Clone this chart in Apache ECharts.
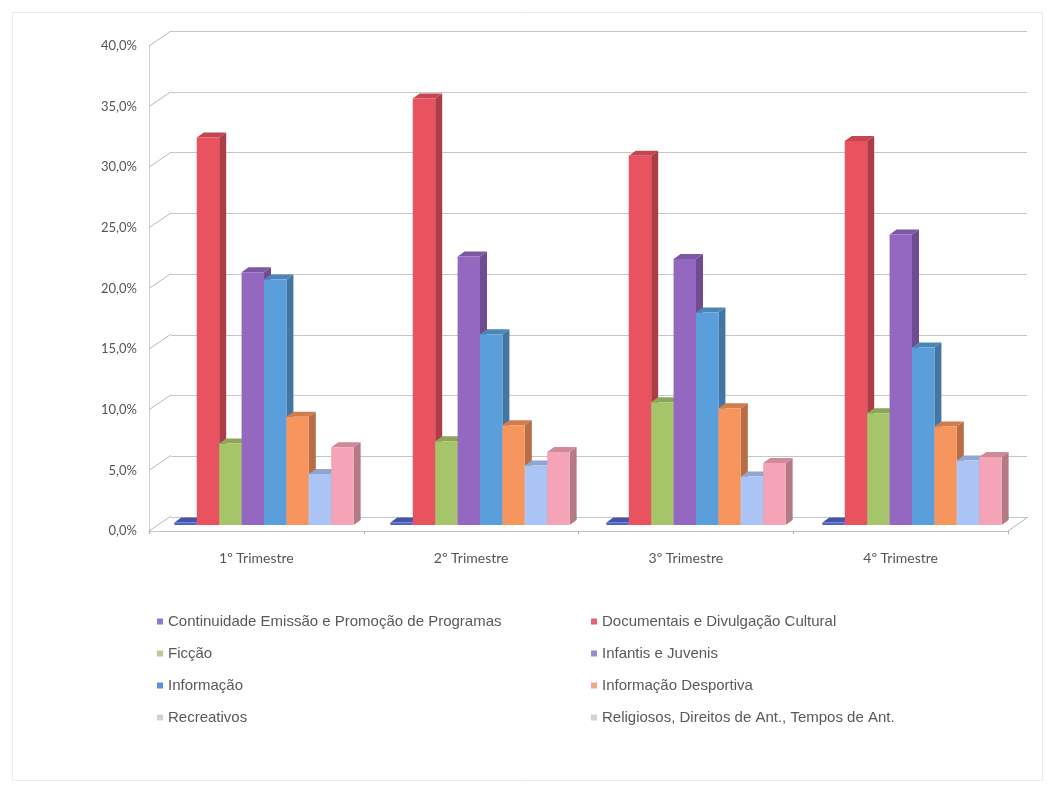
<!DOCTYPE html>
<html><head><meta charset="utf-8">
<script src="https://cdn.jsdelivr.net/npm/echarts@6/dist/echarts.min.js"></script>
<style>html,body{margin:0;padding:0;background:#fff}#c{width:1047px;height:789px}</style>
</head><body><div id="c"></div>
<script>
const categories = ['1º Trimestre', '2º Trimestre', '3º Trimestre', '4º Trimestre'];
const seriesNames = [
  'Continuidade Emissão e Promoção de Programas',
  'Documentais e Divulgação Cultural',
  'Ficção',
  'Infantis e Juvenis',
  'Informação',
  'Informação Desportiva',
  'Recreativos',
  'Religiosos, Direitos de Ant., Tempos de Ant.'
];
const continuidade = [0.002, 0.002, 0.002, 0.002];
const documentais  = [0.319, 0.351, 0.304, 0.316];
const ficcao       = [0.067, 0.069, 0.101, 0.092];
const infantis     = [0.208, 0.221, 0.219, 0.239];
const informacao   = [0.202, 0.157, 0.175, 0.146];
const desportiva   = [0.089, 0.082, 0.096, 0.081];
const recreativos  = [0.042, 0.049, 0.040, 0.053];
const religiosos   = [0.064, 0.060, 0.051, 0.056];
const yTicks = [0, 0.05, 0.10, 0.15, 0.20, 0.25, 0.30, 0.35, 0.40];

const seriesValues = [continuidade, documentais, ficcao, infantis, informacao, desportiva, recreativos, religiosos];
const colors = ['#4f63c8', '#e8535f', '#a6c46a', '#9467c1', '#5a9fdc', '#f7955e', '#abc4f6', '#f4a4b6'];
const legendColors = ['#7f7fe0', '#e5607a', '#bccb9c', '#9a8ccb', '#5b8ee3', '#f5a290', '#cfd1d6', '#d2d2d2'];

function shade(hex, f) {
  const n = parseInt(hex.slice(1), 16);
  const r = Math.round(((n >> 16) & 255) * f), g = Math.round(((n >> 8) & 255) * f), b = Math.round((n & 255) * f);
  return 'rgb(' + r + ',' + g + ',' + b + ')';
}

function makeBar(sIdx) {
  return function (params, api) {
    const ci = api.value(0), v = api.value(1);
    const b = api.coord([ci, 0]), t = api.coord([ci, v]);
    const band = api.size([1, 0])[0];
    const gw = band * 0.83, bw = gw / 8;
    const x0 = b[0] - gw / 2 + sIdx * bw, x1 = x0 + bw;
    const dx = 7, dy = -5;
    const c = colors[sIdx];
    return {
      type: 'group', children: [
        { type: 'polygon', shape: { points: [[x1, t[1]], [x1 + dx, t[1] + dy], [x1 + dx, b[1] + dy], [x1, b[1]]] }, style: { fill: shade(c, 0.74) } },
        { type: 'polygon', shape: { points: [[x0, t[1]], [x0 + dx, t[1] + dy], [x1 + dx, t[1] + dy], [x1, t[1]]] }, style: { fill: shade(c, 0.84) } },
        { type: 'rect', shape: { x: x0, y: t[1], width: bw, height: b[1] - t[1] }, style: { fill: c } }
      ]
    };
  };
}

const fmt = v => (v * 100).toFixed(1).replace('.', ',') + '%';

const chart = echarts.init(document.getElementById('c'), null, { renderer: 'canvas' });
const barSeries = seriesNames.map((name, i) => ({
  name: name,
  type: 'custom',
  xAxisIndex: 2, yAxisIndex: 2,
  itemStyle: { color: colors[i] },
  renderItem: makeBar(i),
  data: categories.map((c, k) => [k, seriesValues[i][k]]),
  z: 5
}));

chart.setOption({
  animation: false,
  backgroundColor: '#ffffff',
  graphic: [{
    type: 'rect', left: 10, top: 10, shape: { width: 1030, height: 768 },
    style: { fill: 'none', stroke: '#ebebeb', lineWidth: 1 }, silent: true, z: -1
  }],
  grid: [
    { left: 149, top: 46, width: 859, height: 485, outerBoundsMode: 'none' },
    { left: 171, top: 31, width: 856, height: 486, outerBoundsMode: 'none' },
    { left: 156, top: 39, width: 864, height: 486, outerBoundsMode: 'none' }
  ],
  xAxis: [
    {
      gridIndex: 0, type: 'category', data: categories,
      axisLine: { lineStyle: { color: '#c4c4c4' } },
      axisTick: { show: true, length: 3, lineStyle: { color: '#b0b0b0' } },
      axisLabel: { margin: 20, fontFamily: 'Lato', fontSize: 14, color: '#555' }
    },
    { gridIndex: 1, type: 'category', data: categories, show: false },
    { gridIndex: 2, type: 'category', data: categories, show: false }
  ],
  yAxis: [
    {
      gridIndex: 0, type: 'value', min: 0, max: 0.4, interval: 0.05,
      axisLine: { show: true, lineStyle: { color: '#d0d0d0' } },
      axisTick: { show: false },
      splitLine: { show: false },
      axisLabel: { formatter: fmt, fontFamily: 'Lato', fontSize: 13, color: '#555', margin: 12 }
    },
    {
      gridIndex: 1, type: 'value', min: 0, max: 0.4, interval: 0.05,
      axisLine: { show: false }, axisTick: { show: false }, axisLabel: { show: false },
      splitLine: { show: true, lineStyle: { color: '#c6c6c6', width: 1 } }
    },
    {
      gridIndex: 2, type: 'value', min: 0, max: 0.4, interval: 0.05, show: false,
      splitLine: { show: false }
    }
  ],
  legend: [
    {
      orient: 'vertical', left: 152, top: 609, itemGap: 17,
      icon: 'rect', itemWidth: 6, itemHeight: 6, selectedMode: false,
      textStyle: { fontFamily: 'Liberation Sans', fontSize: 15, color: '#595959' },
      data: [0, 2, 4, 6].map(i => ({ name: seriesNames[i], itemStyle: { color: legendColors[i] } }))
    },
    {
      orient: 'vertical', left: 586, top: 609, itemGap: 17,
      icon: 'rect', itemWidth: 6, itemHeight: 6, selectedMode: false,
      textStyle: { fontFamily: 'Liberation Sans', fontSize: 15, color: '#595959' },
      data: [1, 3, 5, 7].map(i => ({ name: seriesNames[i], itemStyle: { color: legendColors[i] } }))
    }
  ],
  series: [
    {
      type: 'custom', name: 'walls', xAxisIndex: 0, yAxisIndex: 0, silent: true, z: 1,
      data: yTicks.map(v => [0, v]),
      renderItem: function (params, api) {
        const cs = params.coordSys;
        const p = api.coord([0, api.value(1)]);
        const children = [{
          type: 'line', shape: { x1: cs.x, y1: p[1], x2: cs.x + 22, y2: p[1] - 15 },
          style: { stroke: '#b8b8b8', lineWidth: 1 }
        }];
        if (api.value(1) === 0) {
          children.push({
            type: 'line', shape: { x1: cs.x + cs.width, y1: p[1], x2: cs.x + cs.width + 20, y2: p[1] - 14 },
            style: { stroke: '#b8b8b8', lineWidth: 1 }
          });
        }
        return { type: 'group', children: children };
      }
    }
  ].concat(barSeries)
});
</script>
</body></html>
